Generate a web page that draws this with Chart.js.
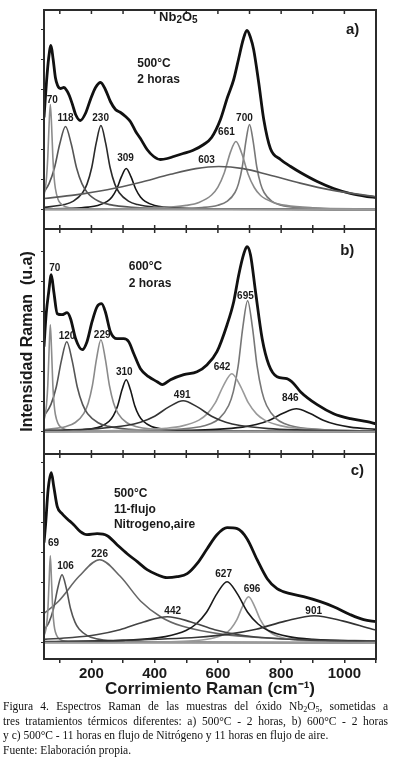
<!DOCTYPE html>
<html>
<head>
<meta charset="utf-8">
<title>Espectros Raman Nb2O5</title>
<script src="https://cdn.jsdelivr.net/npm/chart.js@4.4.1/dist/chart.umd.min.js"></script>
<style>
  body { margin: 0; background: #fff; width: 399px; height: 763px; position: relative; overflow: hidden; }
  canvas { position: absolute; left: 0; }
  #panelA { top: 0; }
  #panelB { top: 229px; }
  #panelC { top: 454px; }
  .caption { position: absolute; left: 3px; top: 699px; width: 385px; font-family: "Liberation Serif", "Times New Roman", serif; font-size: 11.5px; line-height: 14.7px; color: #111; }
  .caption div { white-space: nowrap; }
  .caption .full { text-align: justify; text-align-last: justify; }
  .caption sub { font-size: 8px; line-height: 0; vertical-align: -2px; }
</style>
</head>
<body>
<canvas id="panelA" width="399" height="230"></canvas>
<canvas id="panelB" width="399" height="226"></canvas>
<canvas id="panelC" width="399" height="246"></canvas>
<div class="caption">
  <div class="full">Figura 4. Espectros Raman de las muestras del óxido Nb<sub>2</sub>O<sub>5</sub>, sometidas a</div>
  <div class="full">tres tratamientos térmicos diferentes: a) 500°C - 2 horas, b) 600°C - 2 horas</div>
  <div>y c) 500°C - 11 horas en flujo de Nitrógeno y 11 horas en flujo de aire.</div>
  <div>Fuente: Elaboración propia.</div>
</div>
<script>
// Axis range and tick labels
const X_MIN = 50;
const X_MAX = 1100;
const xTickLabels = [200, 400, 600, 800, 1000];

// Panel a) 500°C - 2 horas  [Raman shift, intensity]
const spectrumA = [[50,92],[58,128],[65,152],[72,164],[79,150],[86,132],[93,124],[102,121],[113,122],[122,119],[130,114],[140,105],[150,95],[165,89],[181,96],[197,110],[213,122],[229,127],[244,120],[260,108],[276,100],[292,97],[308,93],[323,88],[340,78],[355,71],[376,60],[397,53],[418,50],[440,51],[460,53],[490,56],[520,59],[555,65],[580,72],[608,90],[630,112],[650,130],[665,150],[680,170],[692,179],[703,172],[713,160],[729,127],[745,90],[766,61],[798,50],[830,43],[861,37],[914,28],[966,21],[1019,16],[1072,13],[1100,12]];
const peakA70 = [[50,14.5],[54,21],[58,32],[62,52.5],[66,84],[70,105],[74,84],[78,52.5],[82,32],[86,21],[94,10.5],[102,6.2],[118,2.8],[150,1],[250,0.2],[1100,0]];
const peakA118 = [[50,17.4],[66,25.9],[83,41.5],[100,65.7],[118,83],[136,65.7],[153,41.5],[170,25.9],[188,16.6],[223,8.3],[258,4.9],[328,2.2],[468,0.8],[1100,0.1]];
const peakA230 = [[50,2.1],[114,4.9],[143,8.4],[172,16.8],[186,25.4],[201,42],[215,66.3],[230,84],[245,66.3],[259,42],[274,25.4],[288,16.8],[317,8.4],[346,4.9],[404,2.2],[520,0.8],[1100,0.1]];
const peakA309 = [[50,0.5],[130,1.1],[190,2.4],[220,4.1],[250,8.2],[265,12.6],[280,20.5],[295,32.8],[310,41],[325,32.8],[340,20.5],[355,12.6],[370,8.2],[400,4.1],[430,2.4],[490,1.1],[610,0.4],[1100,0]];
const peakA603 = [[50,11],[150,14.6],[250,19.7],[350,26.7],[450,35.2],[530,40.9],[603,43],[680,40.9],[760,34.8],[860,26.4],[960,19.4],[1100,12.8]];
const peakA661 = [[50,0.3],[300,0.8],[460,2.7],[500,4.1],[540,7.1],[580,14.5],[600,22.4],[620,36.6],[640,57.6],[657,68],[675,56.5],[695,35.8],[715,22],[735,14],[775,7.1],[815,4.1],[900,1.8],[1100,0.5]];
const peakA700 = [[50,0.1],[400,0.5],[550,2],[600,4.3],[630,8.3],[654,17],[665,25.6],[677,42.5],[689,69.2],[700,85],[711,69.2],[723,42.5],[735,25.6],[746,17],[770,8.3],[800,4.3],[850,2],[1000,0.5],[1100,0.3]];

// Panel b) 600°C - 2 horas
const spectrumB = [[50,85],[57,118],[65,140],[73,157],[81,140],[92,118],[107,117],[123,119],[134,113],[150,93],[171,82],[186,90],[202,110],[218,125],[232,128],[244,120],[260,100],[281,93],[302,93],[318,90],[334,78],[355,63],[381,55],[408,50],[424,47],[450,52],[492,57],[534,60],[566,67],[597,80],[629,107],[650,130],[666,157],[682,178],[692,185],[703,177],[719,140],[740,93],[761,67],[787,55],[818,53],[840,48],[861,40],[914,27],[966,18],[1019,13],[1072,10],[1100,8]];
const peakB70 = [[50,11.7],[54,17.2],[58,27.2],[62,46.3],[66,80.6],[70,107],[74,80.6],[78,46.3],[82,27.2],[86,17.2],[94,8.4],[102,4.9],[118,2.2],[150,0.8],[250,0.2],[1100,0]];
const peakB120 = [[50,15.6],[72,27.3],[89,45],[105,71.1],[122,90],[139,71.1],[155,45],[172,27.3],[188,18],[221,9],[254,5.3],[320,2.4],[450,0.9],[1100,0.1]];
const peakB229 = [[50,2],[120,5.2],[149,9.2],[176,18.4],[190,28.8],[203,46],[216,72.5],[230,92],[244,72.5],[257,46],[270,28.8],[284,18.4],[311,9.2],[340,5.2],[400,2.3],[520,0.8],[1100,0.1]];
const peakB310 = [[50,0.55],[150,1.4],[200,3],[230,5.3],[256,10.4],[270,16.3],[283,26],[297,42.2],[310,52],[323,42.2],[337,26],[350,16.3],[364,10.4],[390,5.3],[420,3],[470,1.4],[600,0.45],[1100,0.1]];
const peakB491 = [[50,1.25],[130,1.8],[220,3.1],[310,6.2],[355,9.5],[400,15.5],[445,24.8],[490,31],[535,24.8],[580,15.5],[625,9.5],[670,6.2],[760,3.1],[850,1.8],[1000,0.94],[1100,0.7]];
const peakB642 = [[50,0.44],[300,1.3],[436,3.4],[488,5.8],[540,11.6],[566,17.8],[592,29],[618,46.4],[644,58],[670,46.4],[696,29],[722,17.8],[748,11.6],[800,5.8],[852,3.4],[950,1.6],[1100,0.74]];
const peakB695 = [[50,0.3],[400,1.35],[544,5],[574,7.7],[604,13.1],[634,26.2],[649,40.3],[664,65.5],[679,104.8],[694,131],[709,104.8],[724,65.5],[739,40.3],[754,26.2],[784,13.1],[814,7.7],[844,5],[950,1.8],[1100,0.8]];
const peakB846 = [[50,0.26],[300,0.54],[508,1.35],[593,2.3],[678,4.6],[721,7.1],[763,11.5],[806,18.5],[848,23],[890,18.5],[933,11.5],[975,7.1],[1018,4.6],[1100,2.35]];

// Panel c) 500°C - 11 h flujo nitrogeno / aire
const spectrumC = [[50,100],[55,118],[63,153],[73,170],[81,156],[92,136],[107,129],[123,124],[144,118],[165,111],[186,108],[218,109],[250,107],[281,98],[313,89],[345,81],[376,73],[408,68],[439,65],[471,66],[503,69],[534,79],[566,94],[597,108],[629,115],[661,114],[692,104],[724,83],[756,64],[787,54],[829,49],[871,46],[924,41],[966,36],[1019,28],[1061,23],[1100,21]];
const peakC69 = [[50,7.2],[54,10.7],[58,17.4],[62,31.3],[66,60.2],[70,87],[74,60.2],[78,31.3],[82,17.4],[86,10.7],[94,5.1],[110,1.9],[150,0.5],[1100,0]];
const peakC106 = [[50,12.5],[66,20.6],[80,34],[94,55.2],[107,68],[120,55.2],[134,34],[148,20.6],[161,13.6],[188,6.8],[215,4],[270,1.8],[400,0.6],[1100,0]];
const peakC226 = [[50,29.3],[96,41.5],[161,66.4],[226,83],[291,66.4],[356,41.5],[421,25.5],[486,16.6],[616,8.3],[746,4.9],[900,3],[1100,1.8]];
const peakC442 = [[50,3.35],[140,5.2],[215,8],[290,13],[365,20.8],[440,26],[515,20.8],[590,13],[665,8],[740,5.2],[890,2.6],[1100,1.3]];
const peakC627 = [[50,0.76],[300,2.3],[434,6.1],[499,12.2],[531,18.7],[564,30.5],[597,49.1],[629,61],[661,49.1],[694,30.5],[727,18.7],[759,12.2],[824,6.1],[900,3.3],[1100,1.1]];
const peakC696 = [[50,0.15],[400,0.7],[549,2.7],[586,4.6],[623,9.2],[641,14],[660,23],[678,36.4],[697,46],[716,36.4],[734,23],[753,14],[771,9.2],[808,4.6],[845,2.7],[950,0.96],[1100,0.4]];
const peakC901 = [[50,1.2],[300,2.3],[537,5.4],[629,8.3],[721,13.5],[813,21.6],[905,27],[997,21.6],[1089,13.5],[1100,12.7]];

// Fonts
const FAMILY = '"Liberation Sans", Arial, sans-serif';
const PEAK_FONT = 'bold 10px ' + FAMILY;
const NOTE_FONT = 'bold 12px ' + FAMILY;
const LETTER_FONT = 'bold 15px ' + FAMILY;

Chart.defaults.font.family = FAMILY;
Chart.defaults.color = '#1a1a1a';

// Text placed on each panel, in data coordinates
const labelsA = [
    { x: 76, y: 109.5, text: '70' },
    { x: 118, y: 91.5, text: '118' },
    { x: 229, y: 91.5, text: '230' },
    { x: 308, y: 51.5, text: '309' },
    { x: 564, y: 49.5, text: '603' },
    { x: 627, y: 77.5, text: '661' },
    { x: 684, y: 91.5, text: '700' },
    { x: 345, y: 145.5, text: '500°C', font: NOTE_FONT, align: 'left' },
    { x: 345, y: 129.5, text: '2 horas', font: NOTE_FONT, align: 'left' },
    { x: 1026, y: 179.5, text: 'a)', font: LETTER_FONT },
    { x: 475, y: 192.5, formula: [['Nb', 0], ['2', 1], ['O', 0], ['5', 1]] }
];
const labelsB = [
    { x: 84, y: 163.7, text: '70' },
    { x: 123, y: 95.7, text: '120' },
    { x: 234, y: 96.7, text: '229' },
    { x: 304, y: 59.7, text: '310' },
    { x: 487, y: 36.7, text: '491' },
    { x: 613, y: 64.7, text: '642' },
    { x: 687, y: 135.7, text: '695' },
    { x: 829, y: 33.7, text: '846' },
    { x: 318, y: 164.7, text: '600°C', font: NOTE_FONT, align: 'left' },
    { x: 318, y: 147.7, text: '2 horas', font: NOTE_FONT, align: 'left' },
    { x: 1009, y: 180.7, text: 'b)', font: LETTER_FONT }
];
const labelsC = [
    { x: 80, y: 99.7, text: '69' },
    { x: 118, y: 76.7, text: '106' },
    { x: 226, y: 88.7, text: '226' },
    { x: 457, y: 31.7, text: '442' },
    { x: 618, y: 68.7, text: '627' },
    { x: 708, y: 53.7, text: '696' },
    { x: 903, y: 31.7, text: '901' },
    { x: 271, y: 149.2, text: '500°C', font: NOTE_FONT, align: 'left' },
    { x: 271, y: 133.2, text: '11-flujo', font: NOTE_FONT, align: 'left' },
    { x: 271, y: 118.2, text: 'Nitrogeno,aire', font: NOTE_FONT, align: 'left' },
    { x: 1041, y: 171.7, text: 'c)', font: LETTER_FONT }
];

// Frame, inner ticks and labels
const panelDecor = {
    id: 'panelDecor',
    afterDraw(chart, args, opts) {
        const { ctx, chartArea: a, scales: { x, y } } = chart;
        ctx.save();
        ctx.strokeStyle = '#2b2b2b';
        ctx.lineWidth = 2;
        ctx.strokeRect(a.left, a.top, a.right - a.left, a.bottom - a.top);

        ctx.lineWidth = 1.5;
        ctx.beginPath();
        for (let v = 100; v <= 1000; v += 100) {
            const px = x.getPixelForValue(v);
            ctx.moveTo(px, a.top);
            ctx.lineTo(px, a.top + 4);
            if (opts.bottomTicks) {
                ctx.moveTo(px, a.bottom);
                ctx.lineTo(px, a.bottom - 4);
            }
        }
        ctx.stroke();

        ctx.fillStyle = '#1a1a1a';
        ctx.textBaseline = 'middle';
        opts.labels.forEach(l => {
            const px = x.getPixelForValue(l.x);
            const py = y.getPixelForValue(l.y);
            if (l.formula) {
                drawFormula(ctx, l.formula, px, py);
                return;
            }
            ctx.font = l.font || PEAK_FONT;
            ctx.textAlign = l.align || 'center';
            ctx.fillText(l.text, px, py);
        });
        ctx.restore();
    }
};

// Nb2O5 with lowered subscripts
function drawFormula(ctx, parts, cx, cy) {
    const big = 'bold 13px ' + FAMILY;
    const small = 'bold 10px ' + FAMILY;
    let total = 0;
    parts.forEach(p => {
        ctx.font = p[1] ? small : big;
        total += ctx.measureText(p[0]).width;
    });
    let px = cx - total / 2;
    ctx.textAlign = 'left';
    parts.forEach(p => {
        ctx.font = p[1] ? small : big;
        ctx.fillText(p[0], px, cy + (p[1] ? 3 : 0));
        px += ctx.measureText(p[0]).width;
    });
}

function toPoints(pairs) {
    return pairs.map(p => ({ x: p[0], y: p[1] }));
}

function lineSet(pairs, color, width) {
    return {
        data: toPoints(pairs),
        borderColor: color,
        borderWidth: width,
        pointRadius: 0,
        fill: false,
        cubicInterpolationMode: 'monotone'
    };
}

function makePanel(canvasId, cfg) {
    const showX = !!cfg.xAxis;
    const datasets = [lineSet([[X_MIN, 0], [X_MAX, 0]], '#9a9a9a', 2)]
        .concat(cfg.curves.map(c => lineSet(c[0], c[1], 1.6)))
        .concat([lineSet(cfg.spectrum, '#111111', 2.8)]);

    return new Chart(document.getElementById(canvasId), {
        type: 'line',
        data: { datasets },
        options: {
            responsive: false,
            animation: false,
            events: [],
            layout: { padding: cfg.padding },
            plugins: {
                legend: { display: false },
                tooltip: { enabled: false },
                panelDecor: { labels: cfg.labels, bottomTicks: !showX }
            },
            scales: {
                x: {
                    type: 'linear',
                    min: X_MIN,
                    max: X_MAX,
                    display: showX,
                    afterFit: s => { s.height = showX ? 41 : 0; },
                    border: { display: false },
                    grid: { drawOnChartArea: false, tickLength: 4, color: '#2b2b2b', lineWidth: 1.5 },
                    ticks: {
                        stepSize: 100,
                        autoSkip: false,
                        includeBounds: false,
                        maxRotation: 0,
                        padding: 2,
                        color: '#1a1a1a',
                        font: { size: 15, weight: 'bold' },
                        callback: v => xTickLabels.includes(v) ? String(v) : ''
                    },
                    title: {
                        display: true,
                        text: 'Corrimiento Raman (cm⁻¹)',
                        color: '#1a1a1a',
                        font: { size: 17, weight: 'bold' },
                        padding: { top: 0, bottom: 0 }
                    }
                },
                y: {
                    type: 'linear',
                    min: cfg.yMin,
                    max: cfg.yMax,
                    afterFit: s => { s.width = 44; },
                    border: { display: false },
                    grid: { drawOnChartArea: false, tickLength: 3, color: '#2b2b2b' },
                    ticks: { display: false, stepSize: 30, includeBounds: false },
                    title: {
                        display: !!cfg.yTitle,
                        text: cfg.yTitle || '',
                        color: '#1a1a1a',
                        font: { size: 16, weight: 'bold' },
                        padding: { top: 18, bottom: 0 }
                    }
                }
            }
        },
        plugins: [panelDecor]
    });
}

makePanel('panelA', {
    yMin: -19.5, yMax: 199.5,
    padding: { left: 0, right: 23, top: 10, bottom: 1 },
    spectrum: spectrumA,
    curves: [[peakA603, '#5a5a5a'], [peakA661, '#8a8a8a'], [peakA700, '#787878'], [peakA70, '#8c8c8c'],
             [peakA118, '#555555'], [peakA230, '#2a2a2a'], [peakA309, '#161616']],
    labels: labelsA
});

makePanel('panelB', {
    yMin: -22.3, yMax: 202.7,
    padding: { left: 0, right: 23, top: 0, bottom: 1 },
    spectrum: spectrumB,
    curves: [[peakB491, '#333333'], [peakB642, '#9a9a9a'], [peakB695, '#777777'], [peakB846, '#1a1a1a'],
             [peakB70, '#8c8c8c'], [peakB120, '#555555'], [peakB229, '#8a8a8a'], [peakB310, '#161616']],
    labels: labelsB,
    yTitle: 'Intensidad Raman  (u.a)'
});

makePanel('panelC', {
    yMin: -16.3, yMax: 188.7,
    padding: { left: 0, right: 23, top: 0, bottom: 0 },
    spectrum: spectrumC,
    curves: [[peakC442, '#444444'], [peakC901, '#333333'], [peakC627, '#1a1a1a'], [peakC696, '#999999'],
             [peakC69, '#8c8c8c'], [peakC106, '#555555'], [peakC226, '#666666']],
    labels: labelsC,
    xAxis: true
});
</script>
</body>
</html>
